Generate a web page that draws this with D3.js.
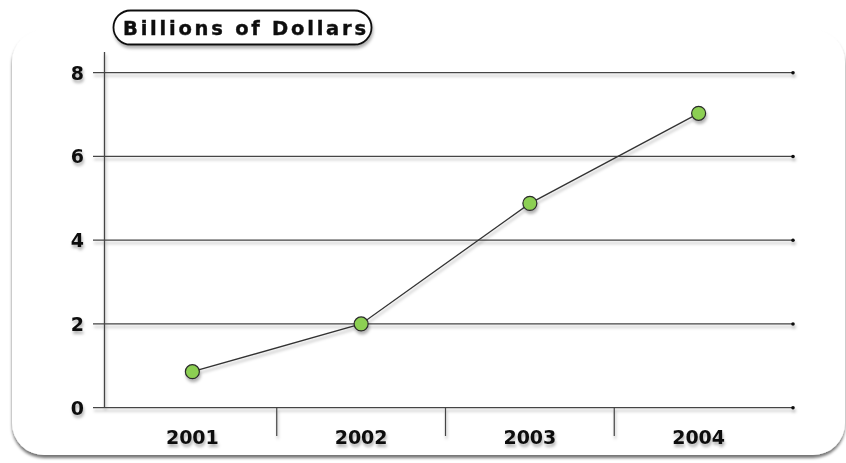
<!DOCTYPE html>
<html>
<head>
<meta charset="utf-8">
<script src="https://cdn.jsdelivr.net/npm/d3@7"></script>
<style>
  body { margin: 0; background: #fff; }
  svg { display: block; }
</style>
</head>
<body>
<svg id="chart" width="846" height="463"></svg>
<script>
// Chart data
var years = ["2001", "2002", "2003", "2004"];
var values = [0.86, 2.0, 4.88, 7.03];
var yTicks = [0, 2, 4, 6, 8];
var title = "Billions of Dollars";

var svg = d3.select("#chart");
var font = "'DejaVu Sans', Verdana, sans-serif";

// Drop shadow filters
var defs = svg.append("defs");
defs.append("filter").attr("id", "cardShadow")
    .attr("x", "-5%").attr("y", "-5%").attr("width", "110%").attr("height", "115%")
    .append("feDropShadow")
    .attr("dx", 0).attr("dy", 3).attr("stdDeviation", 1.6)
    .attr("flood-color", "#000").attr("flood-opacity", 0.55);
defs.append("filter").attr("id", "soft")
    .attr("x", "-20%").attr("y", "-50%").attr("width", "140%").attr("height", "200%")
    .append("feDropShadow")
    .attr("dx", 1).attr("dy", 3).attr("stdDeviation", 1.6)
    .attr("flood-color", "#000").attr("flood-opacity", 0.3);

// Background card
svg.append("rect")
    .attr("x", 12).attr("y", 30)
    .attr("width", 833).attr("height", 425)
    .attr("rx", 32)
    .attr("fill", "#fff")
    .attr("filter", "url(#cardShadow)");

// Scales
var x = d3.scaleBand()
    .domain(years)
    .range([108, 783]);

var y = d3.scaleLinear()
    .domain([0, 8])
    .range([407.7, 72.7]);

var gridRight = 793;

// Gridlines with end dots
var grid = svg.append("g").attr("filter", "url(#soft)");
grid.selectAll(".grid")
    .data(yTicks)
    .join("line")
    .attr("class", "grid")
    .attr("x1", 93).attr("x2", gridRight)
    .attr("y1", d => y(d)).attr("y2", d => y(d))
    .attr("stroke", "#444")
    .attr("stroke-width", 1.3);
grid.selectAll(".dot")
    .data(yTicks)
    .join("circle")
    .attr("class", "dot")
    .attr("cx", gridRight).attr("cy", d => y(d))
    .attr("r", 1.8)
    .attr("fill", "#111");

// Y axis line
grid.append("line")
    .attr("x1", 104.5).attr("x2", 104.5)
    .attr("y1", 52).attr("y2", y(0))
    .attr("stroke", "#444")
    .attr("stroke-width", 1.3);

// Category separators
grid.selectAll(".sep")
    .data(years.slice(1))
    .join("line")
    .attr("class", "sep")
    .attr("x1", d => x(d)).attr("x2", d => x(d))
    .attr("y1", y(0)).attr("y2", 436)
    .attr("stroke", "#444")
    .attr("stroke-width", 1.2);

// Y tick labels
svg.append("g").attr("filter", "url(#soft)")
    .selectAll("text")
    .data(yTicks)
    .join("text")
    .attr("x", 84)
    .attr("y", d => y(d))
    .attr("dy", "0.36em")
    .attr("text-anchor", "end")
    .attr("font-family", font)
    .attr("font-weight", "bold")
    .attr("font-size", 19)
    .attr("fill", "#111")
    .text(d => d);

// X labels
svg.append("g").attr("filter", "url(#soft)")
    .selectAll("text")
    .data(years)
    .join("text")
    .attr("x", d => x(d) + x.bandwidth() / 2)
    .attr("y", 444)
    .attr("text-anchor", "middle")
    .attr("font-family", font)
    .attr("font-weight", "bold")
    .attr("font-size", 19)
    .attr("fill", "#111")
    .text(d => d);

// Line and points
var pts = years.map((d, i) => [x(d) + x.bandwidth() / 2, y(values[i])]);
var series = svg.append("g").attr("filter", "url(#soft)");
series.append("path")
    .attr("d", d3.line()(pts))
    .attr("fill", "none")
    .attr("stroke", "#333")
    .attr("stroke-width", 1.3);
series.selectAll("circle")
    .data(pts)
    .join("circle")
    .attr("cx", d => d[0]).attr("cy", d => d[1])
    .attr("r", 7)
    .attr("fill", "#8ccf52")
    .attr("stroke", "#2a2a2a")
    .attr("stroke-width", 1.2);

// Title pill
var tg = svg.append("g").attr("filter", "url(#soft)");
tg.append("rect")
    .attr("x", 113.5).attr("y", 10.5)
    .attr("width", 258).attr("height", 34)
    .attr("rx", 17)
    .attr("fill", "#fff")
    .attr("stroke", "#111")
    .attr("stroke-width", 1.8);
tg.append("text")
    .attr("x", 123)
    .attr("y", 35)
    .attr("textLength", 243)
    .attr("lengthAdjust", "spacing")
    .attr("font-family", font)
    .attr("font-weight", "bold")
    .attr("font-size", 19.5)
    .attr("stroke", "#111")
    .attr("stroke-width", 0.4)
    .attr("fill", "#111")
    .text(title);
</script>
</body>
</html>
